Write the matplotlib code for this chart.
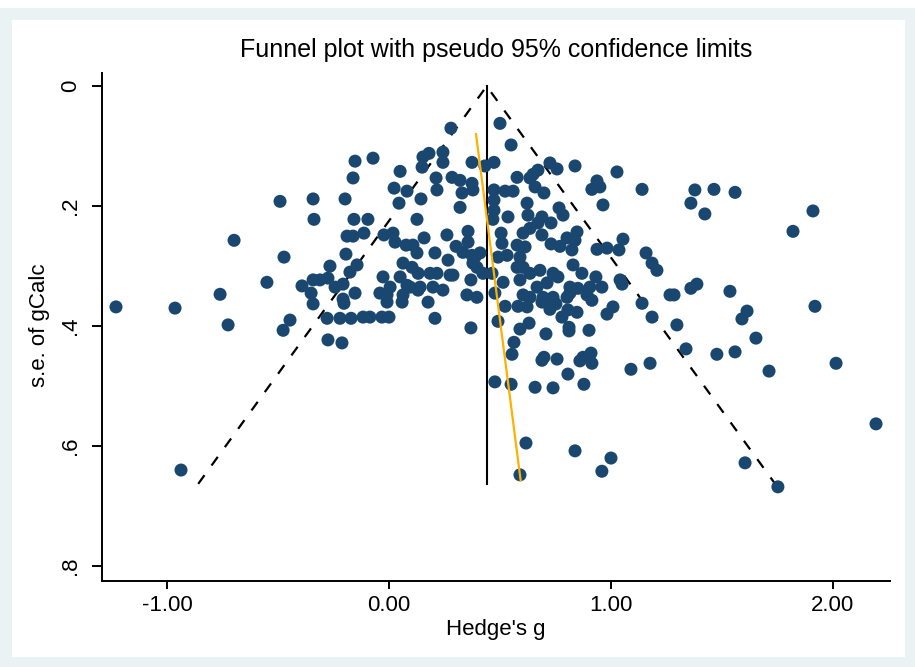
import matplotlib
matplotlib.use('Agg')
import matplotlib.pyplot as plt
import matplotlib.patches as patches

plt.rcParams['font.family'] = ['Liberation Sans', 'DejaVu Sans']

# effect sizes (Hedge's g) and their standard errors
hedges_g = [
    -0.491, -0.698, -0.473, -0.550, -0.761,
    -0.342, -0.198, -0.153, -0.072, -0.162, 0.050, 0.023, 0.081, 0.144, 0.045, 0.149, 0.153, 0.180,
    0.279, 0.243, 0.243, 0.212, 0.216, 0.284, 0.320, 0.329, 0.374, 0.374, 0.378, 0.320,
    -0.338, -0.158, -0.095, 0.126, -0.189, -0.162, -0.113, -0.023, 0.018, 0.027, 0.077, 0.108,
    0.126, 0.158, 0.261, 0.356, 0.356, 0.302, 0.333, 0.207, 0.266, 0.387, 0.396,
    -0.194, -0.266, -0.144, -0.176, 0.063, 0.104, 0.131, -0.027, 0.050, 0.185, 0.216, 0.275, 0.288,
    0.369, -0.342, -0.311, -0.275, -0.392, -0.351, -0.243, -0.207, -0.153, -0.207, -0.041, 0.005,
    0.081, 0.140, 0.198, 0.243, 0.351, 0.396,
    0.500, 0.550, 0.473, 0.432, 0.725, 0.757, 0.838, 1.027, 0.671, 0.649, 0.635, 0.577, 0.473,
    0.523, 0.559, 0.658, 0.698, 0.937, 0.914, 0.950, 1.140, 0.964, 0.622, 0.473, 0.473, 0.536,
    0.626, 0.689, 0.766, 0.784, 0.468, 0.730, 0.671, 0.635, 0.604, 0.689, 0.505, 0.509, 0.577,
    0.613, 0.730, 0.770, 0.802, 0.847, 0.838, 0.824, 0.937, 0.982, 1.054, 1.036, 1.158, 1.185,
    1.207, 1.266, 0.410, 0.374, 0.378, 0.491, 0.532, 0.590, 0.604, 0.577, 0.680, 0.739, 0.761,
    0.712, 0.635, 0.590, 0.514, 0.423, 0.464, 0.829, 0.869, 0.932, 0.905, 0.959, 0.815, 1.041,
    0.694, 0.739, 0.635, 0.802, 0.892,
    1.378, 1.464, 1.559, 1.360, 1.423, 1.910, 1.820, 1.387, 1.360, 1.284, 1.536,
    -1.230, -0.964, -0.725, -0.477, -0.446, -0.937,
    -0.342, -0.279, -0.275, -0.212, -0.221, -0.171, -0.117, -0.086, -0.032, 0.000, -0.203, -0.009,
    -0.009, 0.059, 0.063, 0.095, 0.131, 0.176, 0.207, 0.369,
    0.477, 0.523, 0.491, 0.590, 0.631, 0.581, 0.622, 0.604, 0.667, 0.689, 0.725, 0.752, 0.725,
    0.779, 0.806, 0.847, 0.815, 0.851, 0.914, 1.009, 0.982, 1.050, 1.140, 1.185, 0.707, 0.811,
    0.811, 0.901, 0.563, 0.554, 0.698, 0.689, 0.757, 0.860, 0.874, 0.914, 0.910, 0.806, 1.090,
    1.176, 0.477, 0.550, 0.658, 0.739, 0.878, 0.617, 0.838, 1.000, 0.959, 0.590,
    1.613, 1.590, 1.297, 1.919, 1.653, 1.338, 1.477, 1.559, 1.712, 2.014, 2.194, 1.604, 1.752,
]
se_gcalc = [
    0.192, 0.257, 0.285, 0.327, 0.347,
    0.188, 0.188, 0.125, 0.120, 0.153, 0.142, 0.170, 0.175, 0.188, 0.195, 0.135, 0.118, 0.112,
    0.070, 0.110, 0.127, 0.153, 0.173, 0.152, 0.157, 0.178, 0.127, 0.162, 0.173, 0.202,
    0.222, 0.222, 0.222, 0.222, 0.250, 0.250, 0.245, 0.248, 0.245, 0.260, 0.265, 0.265,
    0.278, 0.253, 0.248, 0.242, 0.260, 0.267, 0.277, 0.278, 0.290, 0.285, 0.302,
    0.280, 0.300, 0.298, 0.310, 0.295, 0.302, 0.312, 0.318, 0.318, 0.312, 0.312, 0.315, 0.315,
    0.323, 0.323, 0.323, 0.320, 0.333, 0.345, 0.335, 0.330, 0.345, 0.355, 0.345, 0.335,
    0.332, 0.335, 0.335, 0.340, 0.348, 0.352,
    0.062, 0.098, 0.127, 0.133, 0.128, 0.138, 0.133, 0.143, 0.140, 0.147, 0.153, 0.152, 0.173,
    0.175, 0.175, 0.168, 0.178, 0.158, 0.172, 0.168, 0.172, 0.198, 0.195, 0.190, 0.207, 0.218,
    0.215, 0.218, 0.203, 0.215, 0.222, 0.228, 0.228, 0.237, 0.245, 0.248, 0.245, 0.262, 0.265,
    0.268, 0.263, 0.267, 0.253, 0.243, 0.257, 0.273, 0.272, 0.270, 0.255, 0.273, 0.278, 0.295,
    0.307, 0.348, 0.278, 0.282, 0.295, 0.285, 0.282, 0.285, 0.302, 0.302, 0.307, 0.312, 0.318,
    0.328, 0.312, 0.323, 0.327, 0.312, 0.312, 0.298, 0.312, 0.318, 0.335, 0.335, 0.335, 0.323,
    0.352, 0.352, 0.352, 0.352, 0.348,
    0.173, 0.172, 0.177, 0.195, 0.213, 0.208, 0.242, 0.330, 0.337, 0.348, 0.342,
    0.368, 0.370, 0.398, 0.407, 0.390, 0.640,
    0.363, 0.387, 0.423, 0.428, 0.387, 0.387, 0.385, 0.385, 0.385, 0.385, 0.362, 0.348,
    0.360, 0.360, 0.348, 0.335, 0.340, 0.360, 0.387, 0.403,
    0.345, 0.367, 0.392, 0.405, 0.395, 0.367, 0.368, 0.348, 0.335, 0.360, 0.362, 0.363, 0.372,
    0.385, 0.373, 0.377, 0.345, 0.337, 0.357, 0.368, 0.380, 0.330, 0.362, 0.385, 0.413, 0.408,
    0.402, 0.407, 0.427, 0.447, 0.452, 0.457, 0.455, 0.458, 0.452, 0.462, 0.445, 0.480, 0.472,
    0.462, 0.493, 0.497, 0.502, 0.503, 0.497, 0.595, 0.608, 0.620, 0.642, 0.648,
    0.375, 0.388, 0.398, 0.367, 0.420, 0.438, 0.447, 0.443, 0.475, 0.462, 0.563, 0.628, 0.668,
]

pooled_g = 0.44      # fixed-effect estimate (vertical line)
se_max = 0.663       # funnel drawn down to this s.e.
egger_g = [0.392, 0.593]
egger_se = [0.080, 0.657]

x_ticks = [-1, 0, 1, 2]
x_labels = ['-1.00', '0.00', '1.00', '2.00']
y_ticks = [0, 0.2, 0.4, 0.6, 0.8]
y_labels = ['0', '.2', '.4', '.6', '.8']

W, H = 915, 667
fig = plt.figure(figsize=(W / 100, H / 100), dpi=100)
fig.patch.set_facecolor('white')

# stata style graph region: light band with white inner box
fig.patches.append(patches.Rectangle((0, 0), 1, 1 - 8 / H, transform=fig.transFigure,
                                     facecolor='#eaf2f3', edgecolor='none', zorder=-3))
fig.patches.append(patches.Rectangle((12 / W, 10 / H), (905 - 12) / W, (657 - 20) / H,
                                     transform=fig.transFigure, facecolor='white',
                                     edgecolor='none', zorder=-2))

ax = fig.add_axes([102 / W, 1 - 581 / H, (890 - 102) / W, (581 - 73) / H])
ax.set_facecolor('none')
ax.set_zorder(1)

# pseudo 95% limits
ax.plot([pooled_g - 1.96 * se_max, pooled_g, pooled_g + 1.96 * se_max], [se_max, 0, se_max],
        color='black', lw=1.6, linestyle=(0, (4.8, 5.4)), zorder=2)
ax.plot([pooled_g, pooled_g], [0, se_max], color='black', lw=1.5, zorder=2)

ax.scatter(hedges_g, se_gcalc, s=88, color='#1a476f', edgecolors='none', zorder=3)

ax.plot(egger_g, egger_se, color='#ffb000', lw=1.6, zorder=4)

ax.set_xlim(-1.293, 2.257)
ax.set_ylim(0.825, -0.022)

ax.spines['top'].set_visible(False)
ax.spines['right'].set_visible(False)
for sp in ('left', 'bottom'):
    ax.spines[sp].set_linewidth(1.4)

ax.set_xticks(x_ticks)
ax.set_xticklabels(x_labels, fontsize=16)
ax.set_yticks(y_ticks)
ax.set_yticklabels(y_labels, fontsize=16, rotation=90, va='center')
ax.tick_params(axis='x', length=6, width=1.4, pad=4)
ax.tick_params(axis='y', length=7, width=1.4, pad=8)

fig.text(496 / W, 1 - 50 / H, 'Funnel plot with pseudo 95% confidence limits',
         ha='center', va='center', fontsize=18)
fig.text(496 / W, 1 - 630 / H, "Hedge's g", ha='center', va='center', fontsize=16)
fig.text(40 / W, 1 - 325 / H, 's.e. of gCalc', ha='center', va='center',
         rotation=90, fontsize=16)

fig.savefig('out.png', dpi=100, facecolor=fig.get_facecolor())
